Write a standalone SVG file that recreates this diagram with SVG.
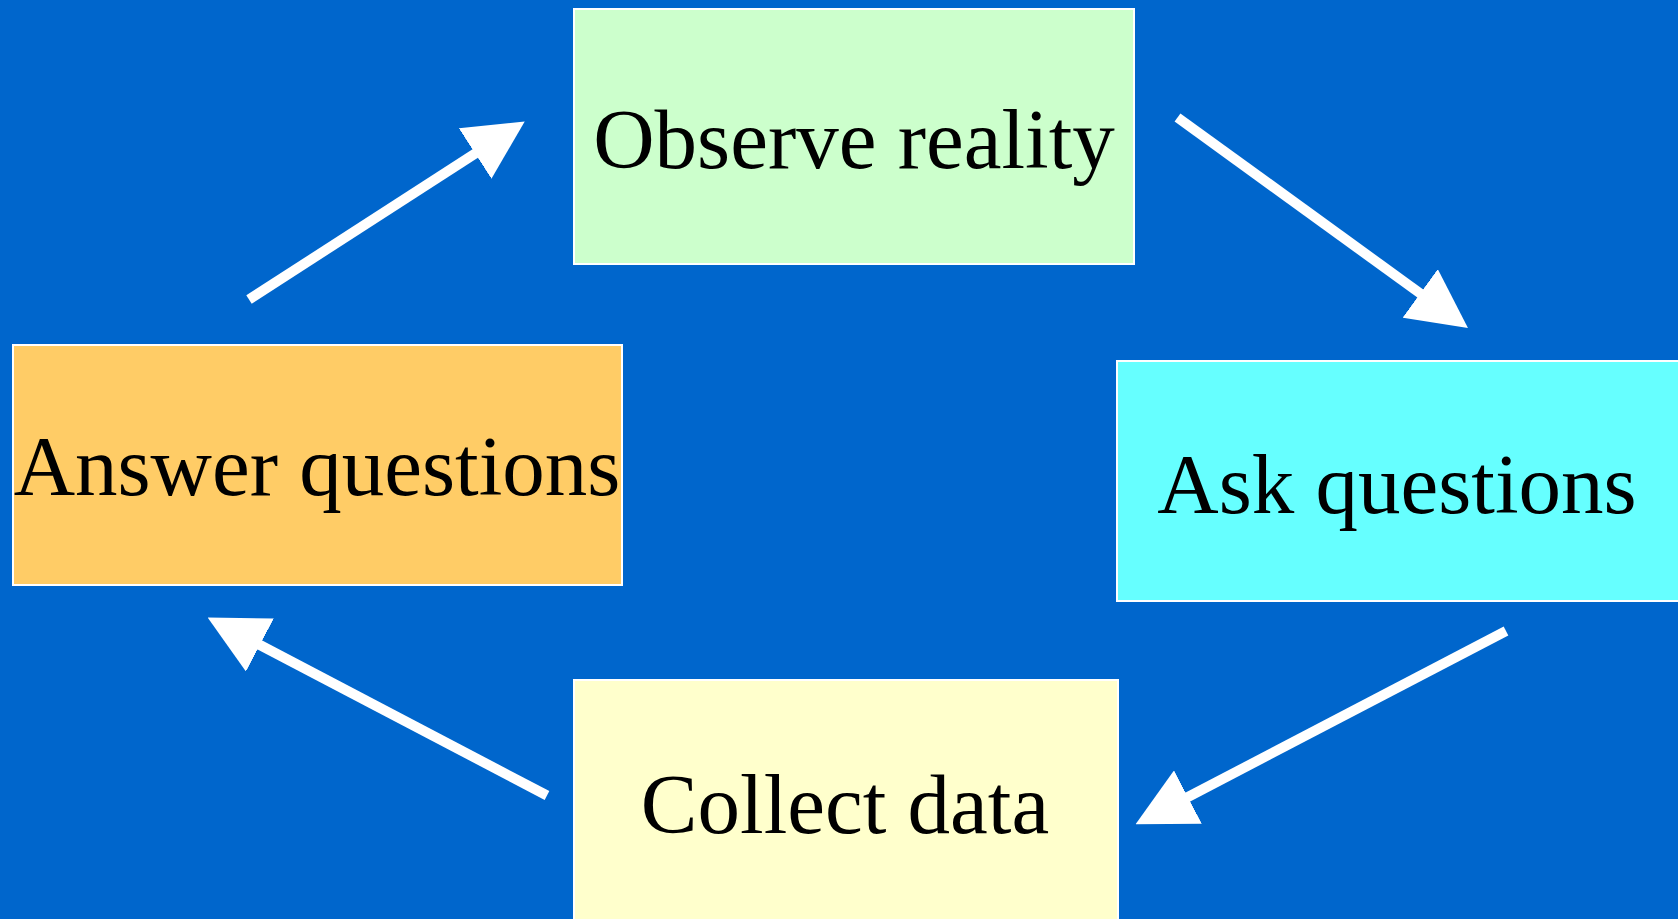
<svg xmlns="http://www.w3.org/2000/svg" width="1678" height="919" viewBox="0 0 1678 919">
  <defs>
    <style>
      .box { stroke: #FFFFFF; stroke-width: 2; }
      .label { font-family: "Liberation Serif", "Times New Roman", serif; font-size: 85px; fill: #000000; text-anchor: middle; }
      .conn { stroke: #FFFFFF; stroke-width: 10; stroke-linecap: butt; fill: none; marker-end: url(#head); }
    </style>
    <marker id="head" markerUnits="userSpaceOnUse" viewBox="0 0 59 60" markerWidth="59" markerHeight="60" refX="1" refY="30" orient="auto">
      <path d="M0,0 L59,30 L0,60 Z" fill="#FFFFFF"/>
    </marker>
  </defs>
  <rect x="0" y="0" width="1678" height="919" fill="#0066CC"/>

  <g id="node-observe">
    <rect class="box" x="574" y="9" width="560" height="255" fill="#CCFFCC"/>
    <text class="label" x="854" y="168">Observe reality</text>
  </g>
  <g id="node-ask">
    <rect class="box" x="1117" y="361" width="570" height="240" fill="#66FFFF"/>
    <text class="label" x="1397" y="513">Ask questions</text>
  </g>
  <g id="node-collect">
    <rect class="box" x="574" y="680" width="544" height="250" fill="#FFFFCC"/>
    <text class="label" x="845" y="833">Collect data</text>
  </g>
  <g id="node-answer">
    <rect class="box" x="13" y="345" width="609" height="240" fill="#FFCC66"/>
    <text class="label" x="317" y="495">Answer questions</text>
  </g>

  <g id="connectors">
    <line class="conn" x1="249" y1="299.5" x2="476" y2="153"/>
    <line class="conn" x1="1177.5" y1="117.5" x2="1421" y2="294"/>
    <line class="conn" x1="1506" y1="631" x2="1187" y2="797.5"/>
    <line class="conn" x1="547" y1="795.5" x2="259" y2="644.5"/>
  </g>
</svg>
